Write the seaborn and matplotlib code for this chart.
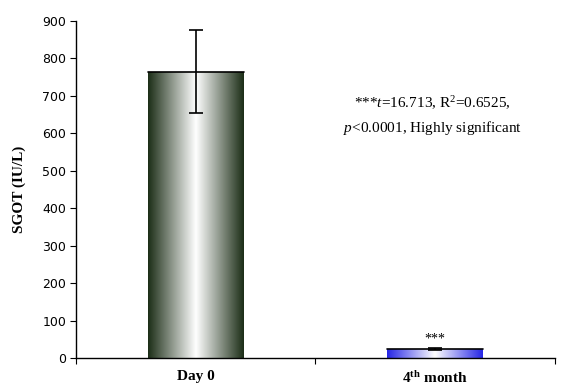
import numpy as np
import pandas as pd
import matplotlib
matplotlib.use("Agg")
import matplotlib.pyplot as plt
from matplotlib.colors import LinearSegmentedColormap
import seaborn as sns

# Data
groups = ["Day 0", "4th month"]
tick_labels = ["Day 0", r"4$^{\mathbf{th}}$ month"]
sgot = [765, 24]
sgot_err = [110, 2]
edge_colors = ["#1c2e17", "#2626e6"]

df = pd.DataFrame({"Group": groups, "SGOT": sgot})

sns.set_style("white")
plt.rcParams["font.family"] = ["Liberation Serif", "DejaVu Serif"]
plt.rcParams["mathtext.fontset"] = "custom"
plt.rcParams["mathtext.rm"] = "Liberation Serif"
plt.rcParams["mathtext.it"] = "Liberation Serif:italic"
plt.rcParams["mathtext.bf"] = "Liberation Serif:bold"
plt.rcParams["text.color"] = "black"
plt.rcParams["axes.labelcolor"] = "black"
plt.rcParams["xtick.color"] = "black"
plt.rcParams["ytick.color"] = "black"
plt.rcParams["xtick.bottom"] = True
plt.rcParams["ytick.left"] = True

fig = plt.figure(figsize=(5.65, 3.91), dpi=100)
ax = fig.add_axes([0.1345, 0.0844, 0.8475, 0.8618])

sns.barplot(data=df, x="Group", y="SGOT", width=0.4, color="white",
            edgecolor="none", ax=ax)

# gradient fill clipped to each bar
for patch, col in zip(ax.patches, edge_colors):
    x0, y0 = patch.get_x(), patch.get_y()
    w, h = patch.get_width(), patch.get_height()
    cmap = LinearSegmentedColormap.from_list("g", [col, "white", col])
    grad = np.linspace(0, 1, 256).reshape(1, -1)
    im = ax.imshow(grad, cmap=cmap, aspect="auto",
                   extent=[x0, x0 + w, y0, y0 + h], zorder=2)
    im.set_clip_path(patch)
    ax.plot([x0, x0 + w], [y0 + h, y0 + h], color="black", lw=1.2, zorder=3)

ax.errorbar(x=range(len(groups)), y=sgot, yerr=sgot_err, fmt="none",
            ecolor="black", elinewidth=1.2, capsize=5, capthick=1.2, zorder=4)

ax.set_xlim(-0.5, 1.5)
ax.set_ylim(0, 900)
ax.set_yticks(range(0, 901, 100))
ax.set_yticklabels([str(v) for v in range(0, 901, 100)],
                   family="DejaVu Sans", fontsize=9)
ax.set_xticks([0, 1])
ax.set_xticklabels(tick_labels, fontsize=11, fontweight="bold")
ax.set_xticks([-0.5, 0.5, 1.5], minor=True)
ax.tick_params(axis="x", which="major", bottom=False, length=0, pad=9)
ax.tick_params(axis="x", which="minor", bottom=True, length=4, width=0.8,
               direction="out")
ax.tick_params(axis="y", left=True, length=4, width=0.8, direction="out",
               pad=3)
for sp in ["top", "right"]:
    ax.spines[sp].set_visible(False)
for sp in ["left", "bottom"]:
    ax.spines[sp].set_linewidth(1.0)
    ax.spines[sp].set_color("black")

ax.set_xlabel("")
ax.set_ylabel("SGOT (IU/L)", fontsize=11, fontweight="bold", labelpad=12)

ax.text(1.0, sgot[1] + sgot_err[1] + 6, "***", ha="center", va="bottom",
        fontsize=10)
ax.text(0.99, 680, r"***$\it{t}$=16.713, R$^2$=0.6525,", ha="center",
        va="center", fontsize=11)
ax.text(0.99, 615, r"$\it{p}$<0.0001, Highly significant", ha="center",
        va="center", fontsize=11)

fig.savefig("out.png", dpi=100)
